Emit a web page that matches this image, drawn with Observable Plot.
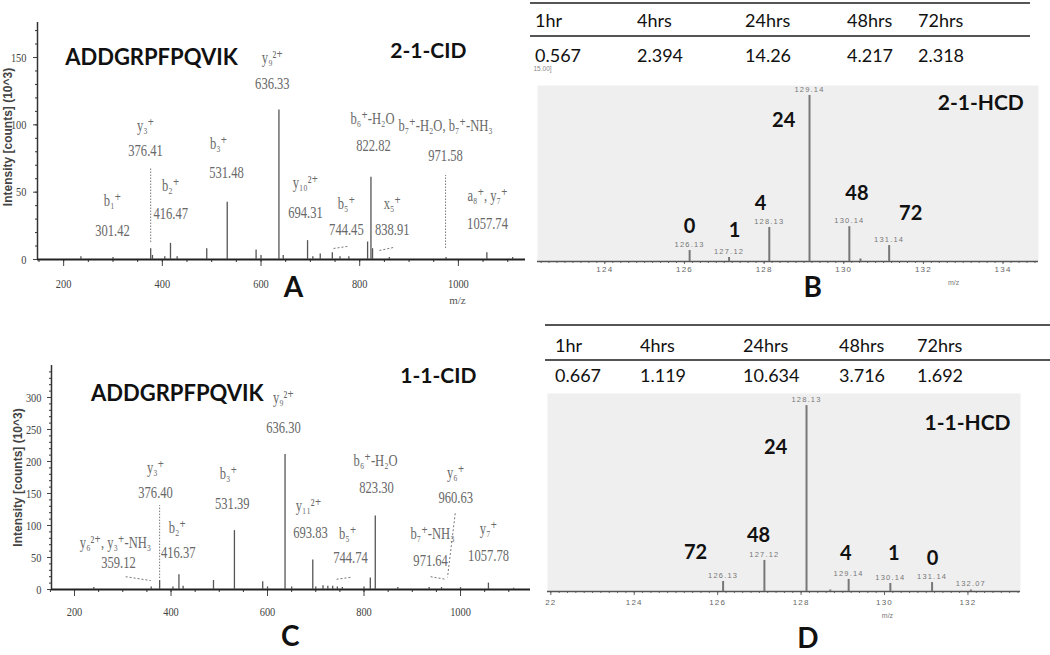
<!DOCTYPE html>
<html><head><meta charset="utf-8">
<script src="https://cdn.jsdelivr.net/npm/d3@7"></script>
<script src="https://cdn.jsdelivr.net/npm/@observablehq/plot@0.6"></script>
<style>
body{margin:0;background:#fff;}
#root{position:relative;width:1050px;height:655px;overflow:hidden;font-family:Lato,sans-serif;background:#fff;}
#root svg{position:absolute;}
.cell{position:absolute;font-family:Lato,sans-serif;font-size:18px;line-height:22px;color:#111;white-space:nowrap;}
.hline{position:absolute;background:#555;}
#pb g[aria-label="x-axis tick label"] text, #pd g[aria-label="x-axis tick label"] text,
#pb g[fill="#777777"] text, #pd g[fill="#777777"] text{letter-spacing:1.2px;}
</style></head><body><div id="root"></div>
<script>
// ---------- DATA ----------
const times = ["1hr","4hrs","24hrs","48hrs","72hrs"];
const bRatios = ["0.567","2.394","14.26","4.217","2.318"];
const dRatios = ["0.667","1.119","10.634","3.716","1.692"];

// Panel A (2-1-CID)
const aMz  = [235, 300, 376.4, 380, 405, 416.5, 430, 490, 531.5, 590, 600, 636.3, 645, 694.3, 705, 720, 744.5, 760, 778, 816, 822.8, 826, 860, 975, 1057.7, 1110];
const aInt = [2, 1.5, 8, 3, 2, 12, 2, 8, 42.5, 7, 3, 111, 3, 14, 2, 4, 5, 2, 2, 13, 61, 8, 1.5, 1.5, 5, 1.5];
const aDashMz = [376.4, 974]; const aDashLo = [12.6, 8.2]; const aDashHi = [67.6, 62.4];
const aCurlX1 = [747, 840], aCurlY1 = [8.2, 6.7], aCurlX2 = [775, 868], aCurlY2 = [9.7, 8.9];
const aLabText = ["y₉²⁺","636.33","y₃⁺","376.41","b₃⁺","531.48","b₁⁺","301.42","b₂⁺","416.47","y₁₀²⁺","694.31","b₅⁺","744.45","x₅⁺","838.91","b₆⁺-H₂O","822.82","b₇⁺-H₂O, b₇⁺-NH₃","971.58","a₈⁺, y₇⁺","1057.74"];
const aLabX = [623,623,366,366,514,530,299,299,417,417,690,690,773,773,866,866,826,828,974,974,1059,1059];
const aLabY = [150,131,99.5,81,86,64.6,44,21.5,55,34,57,35,41.6,22.3,41.6,22.3,105,84.6,99.5,77,47.5,26.7];
const aYTicks = [0,50,100,150]; const aXTicks = [200,400,600,800,1000];

// Panel C (1-1-CID)
const cMz  = [240, 359, 376.4, 404, 416.4, 425, 488, 531.4, 590, 600, 636.3, 650, 693.8, 700, 715, 725, 735, 744.7, 755, 800, 813, 823.3, 870, 935, 960.6, 1000, 1057.8, 1110];
const cInt = [3, 4, 14, 4, 23, 5, 14, 92, 12, 4, 211, 4, 46, 4, 6, 5, 5, 4, 3, 4, 18, 115, 3, 3, 3, 3, 10, 2];
const cDashMz = [376.4]; const cDashLo = [17]; const cDashHi = [131];
const cCurlX1 = [306, 743, 938, 989], cCurlY1 = [20, 16, 20, 119], cCurlX2 = [358, 772, 969, 973], cCurlY2 = [14, 19, 16, 19];
const cLabText = ["y₉²⁺","636.30","y₃⁺","376.40","b₃⁺","531.39","y₆²⁺, y₃⁺-NH₃","359.12","b₂⁺","416.37","y₁₁²⁺","693.83","b₅⁺","744.74","b₆⁺-H₂O","823.30","y₆⁺","960.63","b₇⁺-NH₃","971.64","y₇⁺","1057.78"];
const cLabX = [633,633,368,368,519,527,285,291,413,415,685,689,766,772,824,826,990,990,942,938,1058,1058];
const cLabY = [300,253,191,152,181,134,73,42,97,58,131,89,87.5,50,201.5,159,183,144,87.5,45,95,53];
const cYTicks = [0,50,100,150,200,250,300]; const cXTicks = [200,400,600,800,1000];

// Panel B (2-1-HCD)
const bMz  = [126.13, 127.12, 128.13, 129.14, 130.14, 130.42, 131.14];
const bInt = [6.6, 2.4, 20.5, 100, 21, 1.5, 9.6];
const bLabeled = [126.13, 127.12, 128.13, 129.14, 130.14, 131.14];
const bTimeText = ["0","1","4","24","48","72"];
const bTimeX = [126.13, 127.26, 127.91, 128.49, 130.33, 131.68];
const bTimeY = [21.1, 18.7, 34.9, 84.9, 41, 28.9];
const bTicks = [124,126,128,130,132,134];

// Panel D (1-1-HCD)
const dMz  = [126.13, 127.12, 128.13, 128.7, 129.14, 130.14, 131.14, 132.07];
const dInt = [5.4, 16.7, 100, 0.8, 6.5, 4.3, 4.8, 0.8];
const dLabeled = [126.13, 127.12, 128.13, 129.14, 130.14, 131.14, 132.07];
const dTimeText = ["72","48","24","4","1","0"];
const dTimeX = [125.47, 126.98, 127.39, 129.07, 130.22, 131.15];
const dTimeY = [21, 30.1, 77.5, 20.4, 20.4, 17.8];
const dTicks = [122,124,126,128,130,132];
const dTickLabels = ["22","124","126","128","130","132"];

// ---------- HELPERS ----------
const peaksOf = (mz, it) => mz.map((m, i) => ({mz: m, i: it[i]}));
const labelsOf = (t, x, y) => t.map((s, i) => ({t: s, x: x[i], y: y[i]}));
const dashOf = (m, lo, hi) => m.map((v, i) => ({mz: v, lo: lo[i], hi: hi[i]}));
const curlOf = (x1, y1, x2, y2) => x1.map((v, i) => ({x1: v, y1: y1[i], x2: x2[i], y2: y2[i]}));
const root = document.getElementById("root");
const SERIF = "'Liberation Serif', 'DejaVu Serif', serif";
const BOLD = "Lato, 'Open Sans', sans-serif";
const ION = "#686868";

// horizontally condense texts (narrow serif look) around their anchor point
function condense(svg, sel, k) {
  svg.querySelectorAll(sel).forEach(t => {
    const tr = t.getAttribute("transform");
    if (tr) t.setAttribute("transform", tr + ` scale(${k},1)`);
    else {
      const x = +t.getAttribute("x") || 0, y = +t.getAttribute("y") || 0;
      t.setAttribute("transform", `translate(${x},${y}) scale(${k},1) translate(${-x},${-y})`);
    }
  });
}

function cidPanel(o) {
  const svg = Plot.plot({
    width: o.width, height: o.height,
    marginLeft: o.ml, marginRight: o.mr, marginTop: o.mt, marginBottom: o.mb,
    x: {domain: o.xd}, y: {domain: o.yd},
    style: {background: "transparent", overflow: "visible", fontFamily: SERIF},
    marks: [
      Plot.axisY({ticks: d3.range(0, o.yd[1], 10), tickSize: 2, tickFormat: () => "", color: "#333", label: null}),
      Plot.axisY({ticks: o.yTicks, tickSize: 4, tickPadding: o.yPad, tickFormat: d => String(d), fontSize: 13, color: "#444", label: null}),
      Plot.axisX({ticks: d3.range(150, o.xd[1], 50), tickSize: 3, tickFormat: () => "", color: "#333", label: null}),
      Plot.axisX({ticks: o.xTicks, tickSize: 7, tickPadding: o.xPad, tickFormat: d => String(d), fontSize: 13, color: "#444", label: null}),
      Plot.ruleX([o.xd[0]], {y1: o.yd[0], y2: o.yd[1], stroke: "#333", strokeWidth: 1.5}),
      Plot.ruleY([0], {stroke: "#222", strokeWidth: 1.8}),
      Plot.ruleX(o.peaks, {x: "mz", y1: 0, y2: "i", stroke: "#555", strokeWidth: 1.3}),
      Plot.ruleX(o.dash, {x: "mz", y1: "lo", y2: "hi", stroke: "#777", strokeDasharray: "1.5,1.5"}),
      Plot.link(o.curl, {x1: "x1", y1: "y1", x2: "x2", y2: "y2", stroke: "#777", strokeDasharray: "2,2"}),
      Plot.text(o.labels, {x: "x", y: "y", text: "t", fontSize: 17, fill: ION, fontFamily: SERIF}),
      Plot.text([o.peptide], {x: o.pepX, y: o.pepY, fontSize: 22, fontWeight: "bold", fill: "#111", fontFamily: BOLD}),
      Plot.text([o.title], {x: o.titleX, y: o.titleY, fontSize: 21, fontWeight: "bold", fill: "#111", fontFamily: BOLD}),
      Plot.text([o.letter], {x: o.letterX, y: o.letterY, fontSize: 28, fontWeight: "bold", fill: "#111", fontFamily: BOLD}),
      Plot.text(["Intensity [counts] (10^3)"], {frameAnchor: "left", textAnchor: "middle", dx: o.ylabDx, dy: o.ylabDy, rotate: -90, fontSize: 12, fontWeight: "bold", fill: "#444", fontFamily: "'Liberation Sans', Arial, sans-serif"}),
      o.mz ? Plot.text(["m/z"], {x: o.mz[0], y: o.mz[1], fontSize: 11, fill: "#555", fontFamily: SERIF}) : null
    ]
  });
  svg.id = o.id;
  svg.style.left = o.left + "px"; svg.style.top = o.top + "px";
  root.appendChild(svg);
  condense(svg, `g[fill="${ION}"] text`, 0.74);
  condense(svg, 'g[aria-label="x-axis tick label"] text', 0.8);
  condense(svg, 'g[aria-label="y-axis tick label"] text', 0.8);
}

function hcdPanel(o) {
  const svg = Plot.plot({
    width: o.width, height: o.height,
    marginLeft: o.ml, marginRight: o.mr, marginTop: o.mt, marginBottom: o.mb,
    x: {domain: o.xd}, y: {domain: o.yd, axis: null},
    style: {background: "transparent", overflow: "visible", fontFamily: "'Liberation Sans', Arial, sans-serif"},
    marks: [
      Plot.frame({fill: "#efefef", stroke: null}),
      Plot.axisX({ticks: d3.range(Math.ceil(o.xd[0] * 5) / 5, o.xd[1], 0.2), tickSize: 2, tickFormat: () => "", color: "#666", label: null}),
      Plot.axisX({ticks: o.ticks, tickSize: o.tickSize, tickPadding: o.tickPad, tickFormat: o.tickFormat, fontSize: 8, color: "#666", label: null}),
      Plot.ruleY([0], {stroke: "#555", strokeWidth: 1.5}),
      Plot.ruleX(o.peaks, {x: "mz", y1: 0, y2: "i", stroke: "#777", strokeWidth: 2}),
      Plot.text(o.peaks.filter(d => o.labeled.includes(d.mz)), {x: "mz", y: "i", text: d => d.mz.toFixed(2), dy: -6, fontSize: 7.5, fill: "#777777"}),
      Plot.text(o.times, {x: "x", y: "y", text: "t", fontSize: 20, fontWeight: "bold", fill: "#111", fontFamily: BOLD}),
      Plot.text([o.title], {x: o.titleX, y: o.titleY, fontSize: 21, fontWeight: "bold", fill: "#111", fontFamily: BOLD}),
      Plot.text([o.letter], {x: o.letterX, y: o.letterY, fontSize: 28, fontWeight: "bold", fill: "#111", fontFamily: BOLD}),
      Plot.text(["m/z"], {x: o.mz[0], y: o.mz[1], fontSize: 7, fill: "#777"}),
      o.corner ? Plot.text([o.corner], {x: o.xd[0], y: o.cornerY, textAnchor: "start", dx: -4, fontSize: 6.5, fill: "#888"}) : null
    ]
  });
  svg.id = o.id;
  svg.style.left = o.left + "px"; svg.style.top = o.top + "px";
  root.appendChild(svg);
}

function table(o) {
  for (const l of o.lines) {
    const d = document.createElement("div");
    d.className = "hline";
    Object.assign(d.style, {left: o.x0 + "px", width: (o.x1 - o.x0) + "px", top: l[0] + "px", height: l[1] + "px"});
    root.appendChild(d);
  }
  const rows = [[times, o.headY], [o.values, o.valY]];
  for (const [vals, cy] of rows) {
    vals.forEach((v, i) => {
      const d = document.createElement("div");
      d.className = "cell";
      d.textContent = v;
      d.style.left = o.cols[i] + "px";
      d.style.top = (cy - 11) + "px";
      root.appendChild(d);
    });
  }
}

// ---------- PANELS ----------
cidPanel({
  id: "pa", left: 0, top: 0, width: 530, height: 310, ml: 37, mr: 5, mt: 22, mb: 51,
  xd: [147, 1136], yd: [0, 176], yTicks: aYTicks, xTicks: aXTicks, yPad: 7, xPad: 12,
  peaks: peaksOf(aMz, aInt), dash: dashOf(aDashMz, aDashLo, aDashHi),
  curl: curlOf(aCurlX1, aCurlY1, aCurlX2, aCurlY2), labels: labelsOf(aLabText, aLabX, aLabY),
  peptide: "ADDGRPFPQVIK", pepX: 378, pepY: 150, title: "2-1-CID", titleX: 939, titleY: 155,
  letter: "A", letterX: 666, letterY: -21, ylabDx: -29, ylabDy: -4, mz: [998, -30.4]
});
cidPanel({
  id: "pc", left: 0, top: 320, width: 530, height: 335, ml: 51, mr: 0, mt: 45, mb: 66,
  xd: [152.3, 1145], yd: [0, 350], yTicks: cYTicks, xTicks: cXTicks, yPad: 6, xPad: 10,
  peaks: peaksOf(cMz, cInt), dash: dashOf(cDashMz, cDashLo, cDashHi),
  curl: curlOf(cCurlX1, cCurlY1, cCurlX2, cCurlY2), labels: labelsOf(cLabText, cLabX, cLabY),
  peptide: "ADDGRPFPQVIK", pepX: 413, pepY: 306, title: "1-1-CID", titleX: 954, titleY: 333,
  letter: "C", letterX: 647, letterY: -75, ylabDx: -33, ylabDy: 0, mz: null
});
hcdPanel({
  id: "pb", left: 530, top: 0, width: 520, height: 310, ml: 7, mr: 12, mt: 85, mb: 49,
  xd: [122.31, 134.89], yd: [0, 106], ticks: bTicks, tickSize: 3, tickPad: 2, tickFormat: d => String(d),
  peaks: peaksOf(bMz, bInt), labeled: bLabeled, times: labelsOf(bTimeText, bTimeX, bTimeY),
  title: "2-1-HCD", titleX: 133.44, titleY: 95.2, letter: "B", letterX: 129.22, letterY: -15.7,
  mz: [132.76, -12.6], corner: "15.00]", cornerY: 116
});
hcdPanel({
  id: "pd", left: 530, top: 310, width: 520, height: 345, ml: 17, mr: 30, mt: 83, mb: 64,
  xd: [121.92, 133.26], yd: [0, 106.5], ticks: dTicks, tickSize: 4, tickPad: 4, tickFormat: (d, i) => dTickLabels[i],
  peaks: peaksOf(dMz, dInt), labeled: dLabeled, times: labelsOf(dTimeText, dTimeX, dTimeY),
  title: "1-1-HCD", titleX: 131.99, titleY: 90.4, letter: "D", letterX: 128.16, letterY: -25.3,
  mz: [130.07, -12.9], corner: null
});

table({x0: 530, x1: 1030, lines: [[2, 2], [35, 2]], headY: 20, valY: 55, cols: [535, 637, 745, 847, 918], values: bRatios});
table({x0: 545, x1: 1050, lines: [[324, 2], [359, 2]], headY: 345, valY: 375, cols: [555, 640, 743, 839, 917], values: dRatios});
</script>
</body></html>
